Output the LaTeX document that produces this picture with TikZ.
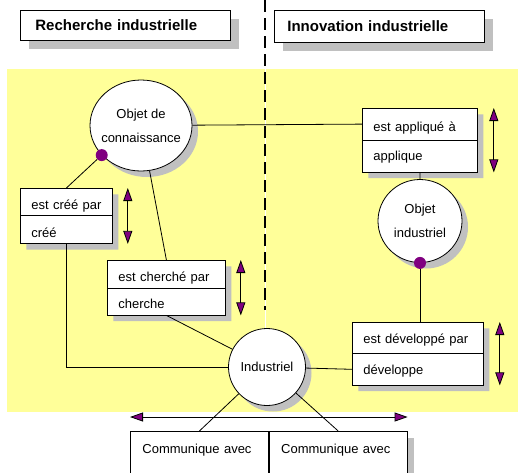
\documentclass[tikz,border=0pt]{standalone}
\usepackage{fontspec}
\setmainfont{Liberation Sans}
\usepackage{xcolor}
\usepackage{tikz}
\usetikzlibrary{positioning,calc,shapes.geometric,shapes.multipart,shadows,arrows.meta}
\definecolor{areayellow}{HTML}{FFFF99}
\definecolor{dotpurple}{HTML}{800080}
\definecolor{shadowgray}{HTML}{C0C0C0}
\newcommand{\rs}[2]{\leavevmode\vrule height #1pt depth #2pt width 0pt}

\begin{document}
\begin{tikzpicture}[x=1pt, y=-1pt, line width=0.8pt,
		castshadow/.style={drop shadow={shadow xshift=#1, shadow yshift=-#1, fill=shadowgray, opacity=1}},
		title/.style={draw, fill=white, castshadow=9pt, anchor=north west, inner ysep=0pt, align=left, font=\fontsize{15}{18}\selectfont\bfseries},
		relbox/.style={rectangle split, rectangle split parts=2, draw, fill=white, castshadow=6pt, anchor=north west, inner xsep=11pt, inner ysep=0pt, font=\fontsize{13}{15}\selectfont},
		entity/.style={ellipse, draw, fill=white, castshadow=6pt, inner sep=-6pt, align=center, font=\fontsize{13}{24}\selectfont},
		commbox/.style={draw, fill=white, castshadow=7pt, anchor=north west, text width=114pt, inner xsep=12pt, inner ysep=0pt, align=left, font=\fontsize{13}{15}\selectfont},
		dot/.style={circle, fill=dotpurple, inner sep=0pt, minimum size=12pt},
		updown/.style={{Triangle[length=13pt,width=9pt,fill=dotpurple]}-{Triangle[length=13pt,width=9pt,fill=dotpurple]}}]
	\useasboundingbox (0,0) rectangle (518,472);
	\fill[areayellow] (7,69) rectangle (518,412);
	\draw[white] (265,69) -- (265,330);
	\draw[line width=1.6pt, dash pattern=on 12pt off 6pt] (265,0) -- (265,310);

	\node[title, text width=180pt, inner xsep=15pt, minimum height=30pt] (rech) at (20,10) {Recherche industrielle};
	\node[title, text width=184pt, inner xsep=13pt, minimum height=32pt] (inno) at (274,10) {Innovation industrielle};

	\node[entity, minimum width=102pt, minimum height=91pt] (objc) at (141,125.5) {Objet de\\connaissance};
	\node[entity, minimum width=84pt, minimum height=83pt] (obji) at (420,221) {Objet\\industriel};
	\node[entity, minimum width=77pt, minimum height=77pt] (indus) at (267,367) {Industriel};

	\node[relbox, text width=70pt] (cree) at (20,188) {\rs{21}{5.5}\mbox{est créé par}\nodepart{two}\rs{21}{6}créé};
	\node[relbox, text width=96pt] (cherche) at (107,260) {\rs{21}{6}\mbox{est cherché par}\nodepart{two}\rs{20}{6}cherche};
	\node[relbox, text width=93pt] (appl) at (362,108) {\rs{23}{8}\mbox{est appliqué à}\nodepart{two}\rs{20}{11}applique};
	\node[relbox, text width=109pt] (dev) at (352,322) {\rs{21}{9}\mbox{est développé par}\nodepart{two}\rs{21}{10}développe};

	\node[commbox] (comm1) at (130,431) {\rs{22}{23}Communique avec};
	\node[commbox, right=0pt of comm1.north east, anchor=north west] (comm2) {\rs{22}{23}Communique avec};

	\node[dot] (dotc) at (objc.217) {};
	\node[dot] (doti) at (obji.south) {};

	\draw (objc) -- ($(appl.north west)!.5!(appl.text split west)$);
	\draw (dotc) -- (cree.north);
	\draw (objc) -- (cherche.north);
	\draw (cherche.south) -- (indus);
	\draw (cree.south) |- (indus);
	\draw (appl.south) -- (obji.north);
	\draw (doti) -- (doti |- dev.north);
	\draw (indus) -- ($(dev.text split west)!.5!(dev.south west)$);
	\draw (indus) -- (comm1.north);
	\draw (indus) -- (comm2.north);

	\draw[updown] ([xshift=15pt]cree.north east) -- ([xshift=15pt]cree.south east);
	\draw[updown] ([xshift=15pt]cherche.north east) -- ([xshift=15pt]cherche.south east);
	\draw[updown] ([xshift=16pt]appl.north east) -- ([xshift=16pt]appl.south east);
	\draw[updown] ([xshift=16pt]dev.north east) -- ([xshift=16pt]dev.south east);
	\draw[updown] ([yshift=14pt]comm1.north west) -- ([yshift=14pt]comm2.north east);
\end{tikzpicture}
\end{document}
